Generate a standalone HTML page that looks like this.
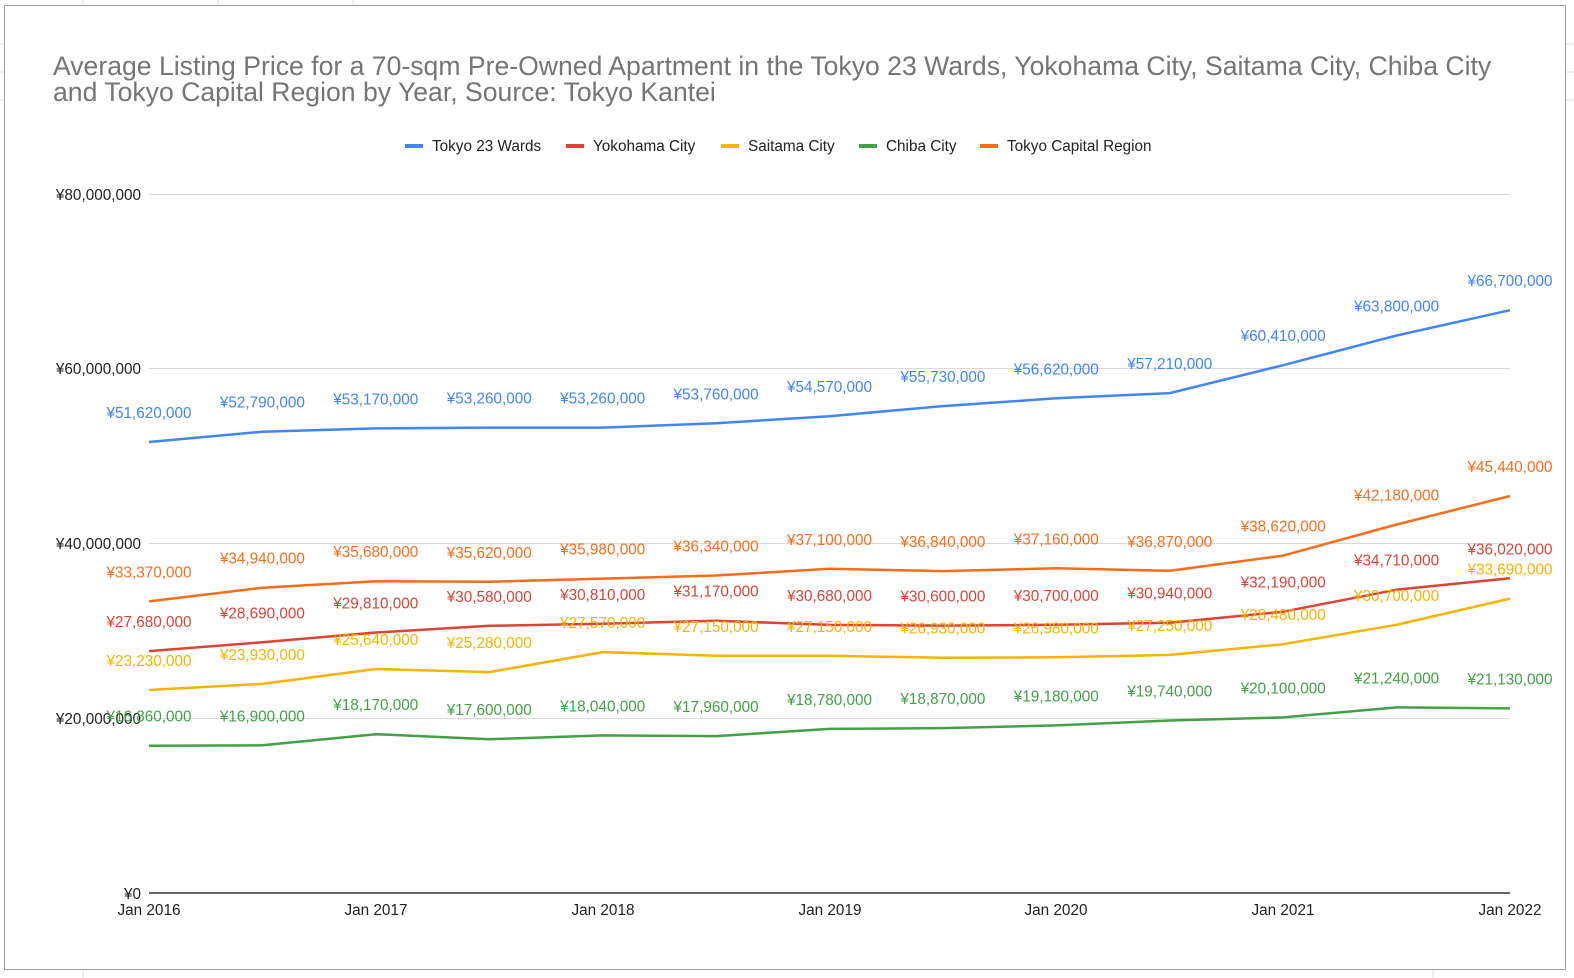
<!DOCTYPE html>
<html><head><meta charset="utf-8"><style>
html,body{margin:0;padding:0;background:#fff;width:1574px;height:978px;overflow:hidden}
svg{display:block;font-family:"Liberation Sans",Arial,sans-serif}
</style></head><body>
<svg id="s" width="1574" height="978" xmlns="http://www.w3.org/2000/svg">
<g stroke="#e2e2e2" stroke-width="1">
<line x1="83" y1="0" x2="83" y2="5"/><line x1="218" y1="0" x2="218" y2="5"/><line x1="353" y1="0" x2="353" y2="5"/>
<line x1="83" y1="970" x2="83" y2="978"/><line x1="1433" y1="970" x2="1433" y2="978"/>
<line x1="0" y1="44" x2="4" y2="44"/><line x1="0" y1="72" x2="4" y2="72"/><line x1="0" y1="100" x2="4" y2="100"/>
<line x1="1566" y1="44" x2="1574" y2="44"/><line x1="1566" y1="72" x2="1574" y2="72"/><line x1="1566" y1="100" x2="1574" y2="100"/>
</g>
<rect x="4.5" y="5.5" width="1561" height="964" fill="#fff" stroke="#9e9e9e" stroke-width="1"/>
<text x="53" y="75" font-size="26.6" fill="#757575">Average Listing Price for a 70-sqm Pre-Owned Apartment in the Tokyo 23 Wards, Yokohama City, Saitama City, Chiba City</text>
<text x="53" y="101" font-size="26.6" fill="#757575">and Tokyo Capital Region by Year, Source: Tokyo Kantei</text>
<g font-size="15.3" fill="#222">
<rect x="405" y="144" width="18" height="4" fill="#4285f4"/><text x="432" y="151">Tokyo 23 Wards</text>
<rect x="566" y="144" width="18" height="4" fill="#db4437"/><text x="593" y="151">Yokohama City</text>
<rect x="721" y="144" width="18" height="4" fill="#f4b400"/><text x="748" y="151">Saitama City</text>
<rect x="859" y="144" width="18" height="4" fill="#43a047"/><text x="886" y="151">Chiba City</text>
<rect x="980" y="144" width="18" height="4" fill="#fa6d1c"/><text x="1007" y="151">Tokyo Capital Region</text>
</g>
<g stroke="#d9d9d9" stroke-width="1">
<line x1="149" y1="194.5" x2="1510" y2="194.5"/><line x1="149" y1="368.5" x2="1510" y2="368.5"/>
<line x1="149" y1="543.5" x2="1510" y2="543.5"/><line x1="149" y1="718.5" x2="1510" y2="718.5"/>
</g>
<line x1="149" y1="893" x2="1510" y2="893" stroke="#333" stroke-width="1.5"/>
<g font-size="15.3" fill="#222" text-anchor="end">
<text x="141" y="200">¥80,000,000</text><text x="141" y="374">¥60,000,000</text>
<text x="141" y="549">¥40,000,000</text><text x="141" y="724">¥20,000,000</text><text x="141" y="899">¥0</text>
</g>
<g font-size="15.3" fill="#222" text-anchor="middle">
<text x="149" y="915">Jan 2016</text><text x="376" y="915">Jan 2017</text><text x="603" y="915">Jan 2018</text>
<text x="830" y="915">Jan 2019</text><text x="1056" y="915">Jan 2020</text><text x="1283" y="915">Jan 2021</text><text x="1510" y="915">Jan 2022</text>
</g>
<g id="series"></g>
</svg>
<script>
var S=[
["#43a047",[16.86,16.9,18.17,17.6,18.04,17.96,18.78,18.87,19.18,19.74,20.1,21.24,21.13]],
["#f4b400",[23.23,23.93,25.64,25.28,27.57,27.15,27.15,26.93,26.98,27.25,28.48,30.7,33.69]],
["#db4437",[27.68,28.69,29.81,30.58,30.81,31.17,30.68,30.6,30.7,30.94,32.19,34.71,36.02]],
["#fa6d1c",[33.37,34.94,35.68,35.62,35.98,36.34,37.1,36.84,37.16,36.87,38.62,42.18,45.44]],
["#4285f4",[51.62,52.79,53.17,53.26,53.26,53.76,54.57,55.73,56.62,57.21,60.41,63.8,66.7]]];
var g=document.getElementById('series'),h='';
function X(i){return 149+i*(1361/12);}
function Y(v){return 893-8.7375*v;}
function fmt(v){var n=Math.round(v*1000)*1000;return '¥'+n.toString().replace(/\B(?=(\d{3})+(?!\d))/g,',');}
S.forEach(function(s){var p=s[1].map(function(v,i){return X(i).toFixed(1)+','+Y(v).toFixed(1)}).join(' ');
h+='<polyline points="'+p+'" fill="none" stroke="'+s[0]+'" stroke-width="2.5" stroke-linejoin="round"/>';});
S.forEach(function(s){s[1].forEach(function(v,i){h+='<text x="'+X(i).toFixed(1)+'" y="'+(Y(v)-24).toFixed(1)+'" font-size="15.3" fill="'+s[0]+'" text-anchor="middle">'+fmt(v)+'</text>';});});
g.innerHTML=h;
</script>
</body></html>
